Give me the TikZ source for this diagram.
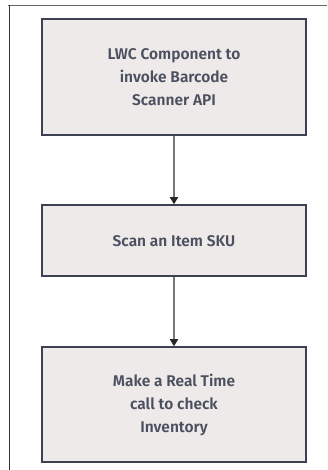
\documentclass[tikz,border=0pt]{standalone}
\usepackage{fontspec}
\setmainfont{Fira Sans}[BoldFont={Fira Sans SemiBold}]
\usetikzlibrary{positioning,arrows.meta}
\definecolor{boxfill}{HTML}{EEEAE9}
\definecolor{boxline}{HTML}{3D4252}
\definecolor{boxtext}{HTML}{4B5060}
\definecolor{arrowgray}{HTML}{777777}
\begin{document}
\begin{tikzpicture}[x=1pt, y=1pt,
  stepbox/.style={draw=boxline, line width=2pt, fill=boxfill, text=boxtext,
    minimum width=264pt, align=center, font=\fontsize{15.5}{23}\selectfont\bfseries},
  flow/.style={draw=arrowgray, line width=1.5pt,
    -{Triangle[width=8pt,length=7pt,color=black!85]}}]
\useasboundingbox (0,0) rectangle (327,470);
\fill[white] (0,0) rectangle (327,470);
% frame
\draw[gray!80!black, line width=1.5pt] (8,464.5)--(327,464.5);
\draw[black!80, line width=1pt] (9,465)--(9,0);
% steps
\node[stepbox, line width=2.5pt, minimum height=116pt] (lwc) at (174,393) {LWC Component to\\invoke Barcode\\Scanner API};
\node[stepbox, minimum height=71pt, below=68pt of lwc] (scan) {Scan an Item SKU};
\node[stepbox, minimum height=115pt, below=69pt of scan] (check) {Make a Real Time\\call to check\\Inventory};
\draw[flow] (lwc)--(scan);
\draw[flow] (scan)--(check);
\end{tikzpicture}
\end{document}
